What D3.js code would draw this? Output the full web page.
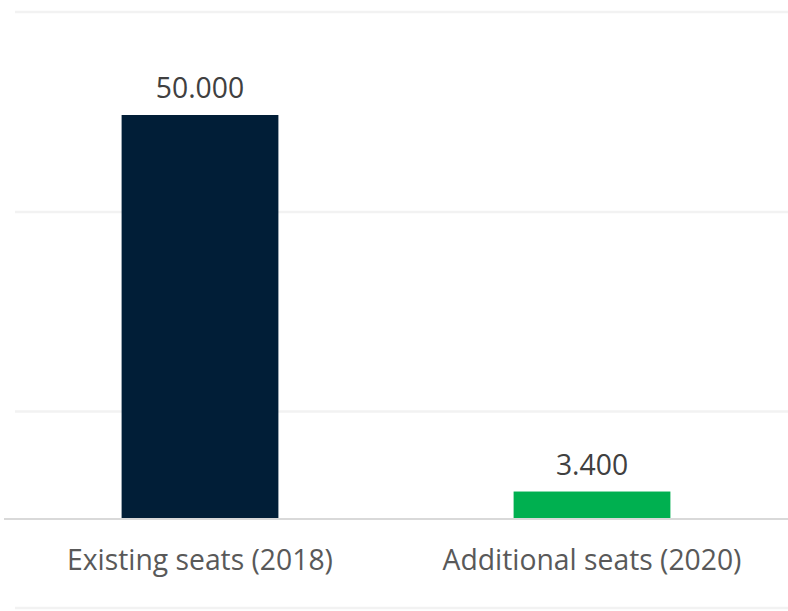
<!DOCTYPE html>
<html>
<head>
<meta charset="utf-8">
<script src="https://cdn.jsdelivr.net/npm/d3@7"></script>
<style>
  html, body { margin: 0; padding: 0; background: #ffffff; }
  svg { display: block; }
  text { font-family: "Open Sans", "Noto Sans", sans-serif; fill: #595959; }
</style>
</head>
<body>
<svg id="chart" width="788" height="611"></svg>
<script>
// ---- data ----
const categories = ["Existing seats (2018)", "Additional seats (2020)"];
const seatValues = [50000, 3400];
const valueLabels = ["50.000", "3.400"];
const barColors = ["#011e37", "#00b050"];
const gridValues = [-11000, 13300, 38000, 62750];

// ---- layout ----
const W = 788, H = 611;
const plotLeft = 4, plotRight = 788;
const baseY = 519, topY = 115;

const svg = d3.select("#chart");

const x = d3.scaleBand()
  .domain(categories)
  .range([plotLeft, plotRight])
  .paddingInner(0.6)
  .paddingOuter(0.3);

const y = d3.scaleLinear()
  .domain([0, 50000])
  .range([baseY, topY]);

// decorative gridlines
svg.append("g").selectAll("line")
  .data(gridValues)
  .join("line")
  .attr("x1", 15).attr("x2", W)
  .attr("y1", d => y(d)).attr("y2", d => y(d))
  .attr("stroke", "#f2f2f2")
  .attr("stroke-width", 2.5);

// bars
svg.append("g").selectAll("rect")
  .data(seatValues)
  .join("rect")
  .attr("x", (d, i) => x(categories[i]))
  .attr("width", x.bandwidth())
  .attr("y", d => y(d))
  .attr("height", d => y(0) - y(d))
  .attr("fill", (d, i) => barColors[i]);

// baseline axis
const xAxis = d3.axisBottom(x).tickSize(0).tickPadding(0);
const ax = svg.append("g").attr("transform", `translate(0,${baseY})`).call(xAxis);
ax.select(".domain").attr("stroke", "#d9d9d9").attr("stroke-width", 2)
  .attr("d", `M${plotLeft},0H${plotRight}`);
ax.selectAll(".tick text")
  .attr("y", 51)
  .attr("dy", 0)
  .style("font-family", '"Open Sans", sans-serif')
  .style("font-size", "28.3px")
  .style("fill", "#595959");

// value labels
svg.append("g").selectAll("text")
  .data(seatValues)
  .join("text")
  .attr("x", (d, i) => x(categories[i]) + x.bandwidth() / 2)
  .attr("y", d => y(d) - 17)
  .attr("text-anchor", "middle")
  .style("font-size", "28.3px")
  .style("fill", "#404040")
  .text((d, i) => valueLabels[i]);
</script>
</body>
</html>
